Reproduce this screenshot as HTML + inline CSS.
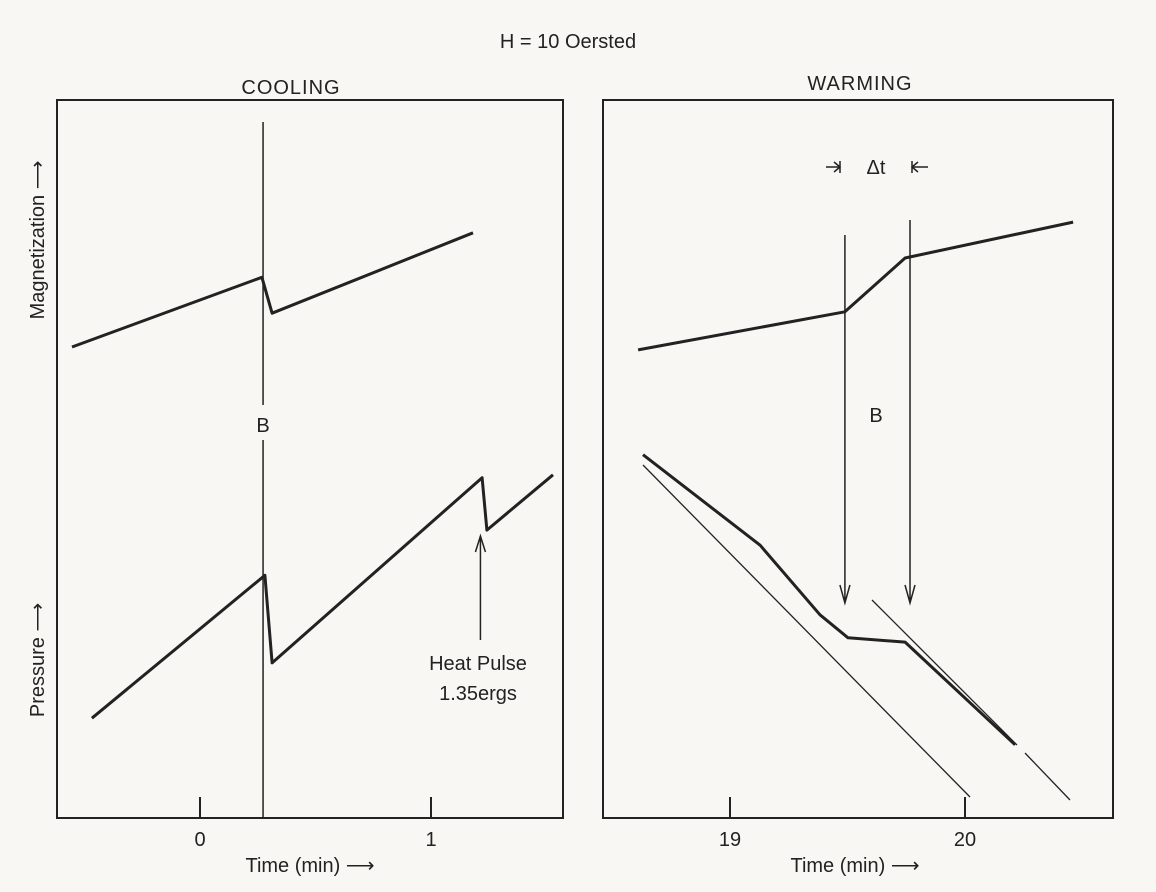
<!DOCTYPE html>
<html><head><meta charset="utf-8"><style>
body{margin:0;background:#f8f7f3;}
svg{display:block;font-family:"Liberation Sans",sans-serif;}
</style></head><body>
<svg id="fig" width="1156" height="892" viewBox="0 0 1156 892">
<rect width="1156" height="892" fill="#f8f7f3"/>
<text x="568" y="48" font-size="20" text-anchor="middle" fill="#222">H = 10 Oersted</text>
<text x="291" y="94" font-size="20" text-anchor="middle" fill="#222" letter-spacing="1">COOLING</text>
<text x="860" y="90" font-size="20" text-anchor="middle" fill="#222" letter-spacing="1">WARMING</text>
<rect x="57" y="100" width="506" height="718" fill="none" stroke="#222" stroke-width="2"/>
<rect x="603" y="100" width="510" height="718" fill="none" stroke="#222" stroke-width="2"/>
<text transform="translate(44,240) rotate(-90)" font-size="20" text-anchor="middle" fill="#222">Magnetization ⟶</text>
<text transform="translate(44,660) rotate(-90)" font-size="20" text-anchor="middle" fill="#222">Pressure ⟶</text>
<text x="310" y="872" font-size="20" text-anchor="middle" fill="#222">Time (min) ⟶</text>
<text x="855" y="872" font-size="20" text-anchor="middle" fill="#222">Time (min) ⟶</text>
<g id="marks"></g>
</svg>
<script>
const leftTicks=[0,1];
const rightTicks=[19,20];
const leftMagT=[-0.554,0.268,0.312,1.182];
const leftMagV=[65.6,75.3,70.3,81.5];
const leftPresT=[-0.468,0.281,0.312,1.221,1.242,1.528];
const leftPresV=[13.9,33.8,21.6,47.4,40.1,47.8];
const rightMagT=[18.609,19.489,19.745,20.46];
const rightMagV=[65.2,70.5,78.0,83.0];
const rightPresT=[18.630,19.128,19.383,19.502,19.745,20.213];
const rightPresV=[50.6,38.0,28.3,25.1,24.5,10.2];
const pulseT=0.273;
const heatPulseT=1.214;
const arrowT=[19.489,19.766];

const NS="http://www.w3.org/2000/svg";
const g=document.getElementById('marks');
const xL=t=>200+t*231;
const xR=t=>730+(t-19)*235;
const yS=v=>818-v*7.18;
function mk(tag,attrs){const e=document.createElementNS(NS,tag);for(const k in attrs)e.setAttribute(k,attrs[k]);g.appendChild(e);return e;}
function curve(ts,vs,xf,name){
  const d=ts.map((t,i)=>(i?'L':'M')+xf(t).toFixed(1)+','+yS(vs[i]).toFixed(1)).join(' ');
  const p=mk('path',{d:d,fill:'none',stroke:'#222','stroke-width':3,'stroke-linejoin':'round'});
  
  
}
curve(leftMagT,leftMagV,xL,'cooling-magnetization-curve');
curve(leftPresT,leftPresV,xL,'cooling-pressure-curve');
curve(rightMagT,rightMagV,xR,'warming-magnetization-curve');
curve(rightPresT,rightPresV,xR,'warming-pressure-curve');
leftTicks.forEach(t=>{
  const l=mk('line',{x1:xL(t),x2:xL(t),y1:797,y2:818,stroke:'#222','stroke-width':2});
  
  
  const tx=mk('text',{x:xL(t),y:846,'font-size':20,'text-anchor':'middle',fill:'#222'});tx.textContent=t;
  
  
});
rightTicks.forEach(t=>{
  const l=mk('line',{x1:xR(t),x2:xR(t),y1:797,y2:818,stroke:'#222','stroke-width':2});
  
  
  const tx=mk('text',{x:xR(t),y:846,'font-size':20,'text-anchor':'middle',fill:'#222'});tx.textContent=t;
  
  
});
// B line cooling
let bl=mk('path',{d:`M${xL(pulseT)},122 V405 M${xL(pulseT)},440 V818`,stroke:'#222','stroke-width':1.5,fill:'none'});


let bt=mk('text',{x:xL(pulseT),y:432,'font-size':20,'text-anchor':'middle',fill:'#222'});bt.textContent='B';


// heat pulse arrow
let ha=mk('path',{d:`M${xL(heatPulseT)},640 V538 M${xL(heatPulseT)-5},552 L${xL(heatPulseT)},536 L${xL(heatPulseT)+5},552`,stroke:'#222','stroke-width':1.5,fill:'none'});


let h1=mk('text',{x:478,y:670,'font-size':20,'text-anchor':'middle',fill:'#222'});h1.textContent='Heat Pulse';


let h2=mk('text',{x:478,y:700,'font-size':20,'text-anchor':'middle',fill:'#222'});h2.textContent='1.35ergs';


// warming arrows
arrowT.forEach((t,i)=>{
  const x=xR(t),top=i?220:235;
  const a=mk('path',{d:`M${x},${top} V603 M${x-5},585 L${x},603 L${x+5},585`,stroke:'#222','stroke-width':1.5,fill:'none'});
  
  
});
let b2=mk('text',{x:876,y:422,'font-size':20,'text-anchor':'middle',fill:'#222'});b2.textContent='B';


// delta t
let dm=mk('path',{d:`M826,167 H840 M834,162 L840,167 L834,172 M840,161 V173 M928,167 H912 M918,162 L912,167 L918,172 M912,161 V173`,stroke:'#222','stroke-width':1.5,fill:'none'});


let dt=mk('text',{x:876,y:174,'font-size':20,'text-anchor':'middle',fill:'#222'});dt.textContent='Δt';


// extrapolation lines
let e1=mk('line',{x1:643,y1:465,x2:970,y2:797,stroke:'#222','stroke-width':1.3});


let e2=mk('path',{d:'M872,600 L1017,745 M1025,753 L1070,800',stroke:'#222','stroke-width':1.3,fill:'none'});


</script>
</body></html>
